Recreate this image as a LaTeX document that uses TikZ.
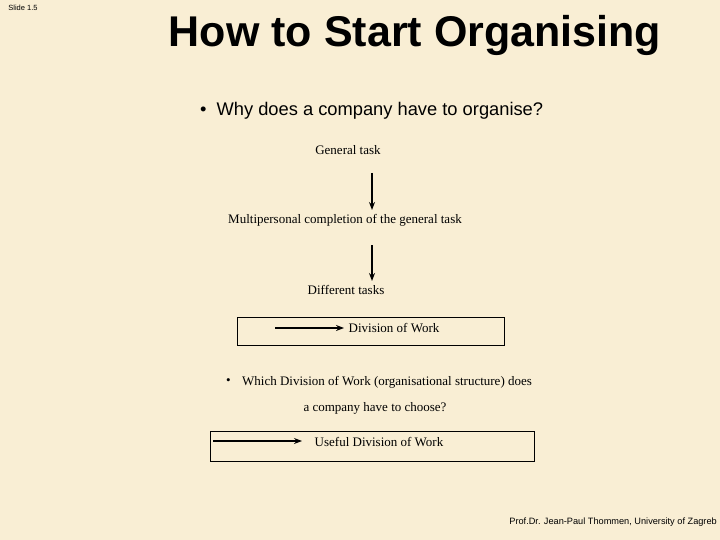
\documentclass[tikz,border=0pt]{standalone}
\usepackage{fontspec}
\setmainfont{Liberation Serif}
\setsansfont{Liberation Sans}
\usetikzlibrary{arrows.meta}
\begin{document}
\begin{tikzpicture}[x=1pt,y=-1pt,
  txt/.style={font=\fontsize{13}{15}\selectfont, inner sep=0},
  arr/.style={-{Stealth[length=8pt,width=6pt]}, line width=1.5pt},
  box/.style={draw, line width=1pt}]
\fill[fill={rgb,255:red,249;green,238;blue,212}] (0,0) rectangle (720,540);
\useasboundingbox (0,0) rectangle (720,540);
\node[font=\sffamily\fontsize{7.5}{8}\selectfont, inner sep=0] (slide) at (23,8) {Slide 1.5};
\node[font=\sffamily\bfseries\fontsize{43}{46}\selectfont, inner sep=0] (title) at (415,35) {How to Start Organising};
\node[font=\sffamily\fontsize{18.3}{21}\selectfont, inner sep=0, anchor=west] (q1) at (200,111) {\textbullet\hspace{10pt}Why does a company have to organise?};
\node[txt] (gt) at (348,150) {General task};
\node[txt] (mc) at (345,220) {Multipersonal completion of the general task};
\node[txt] (dt) at (346,290) {Different tasks};
\coordinate (a1s) at (372,173); \coordinate (a1e) at (372,210);
\coordinate (a2s) at (372,245); \coordinate (a2e) at (372,281);
\draw[arr] (a1s) -- (a1e);
\draw[arr] (a2s) -- (a2e);
\node[box, minimum width=267pt, minimum height=28pt, inner sep=0] (b1) at (370.5,331) {};
\node[txt] (dw) at (394,328) {Division of Work};
\coordinate (a3s) at (275,328); \coordinate (a3e) at (344,328);
\draw[arr] (a3s) -- (a3e);
\node[txt, anchor=west] (bul) at (226,382) {\textbullet};
\node[txt, anchor=west] (q2) at (242,382) {Which Division of Work (organisational structure) does};
\node[txt] (q2b) at (375,408) {a company have to choose?};
\node[box, minimum width=324pt, minimum height=30pt, inner sep=0] (b2) at (372,446) {};
\node[txt] (uw) at (379,442) {Useful Division of Work};
\coordinate (a4s) at (213,441); \coordinate (a4e) at (302,441);
\draw[arr] (a4s) -- (a4e);
\node[font=\sffamily\fontsize{9.2}{10}\selectfont, inner sep=0, anchor=east] (foot) at (717,522) {Prof.Dr. Jean-Paul Thommen, University of Zagreb};
\end{tikzpicture}
\end{document}
